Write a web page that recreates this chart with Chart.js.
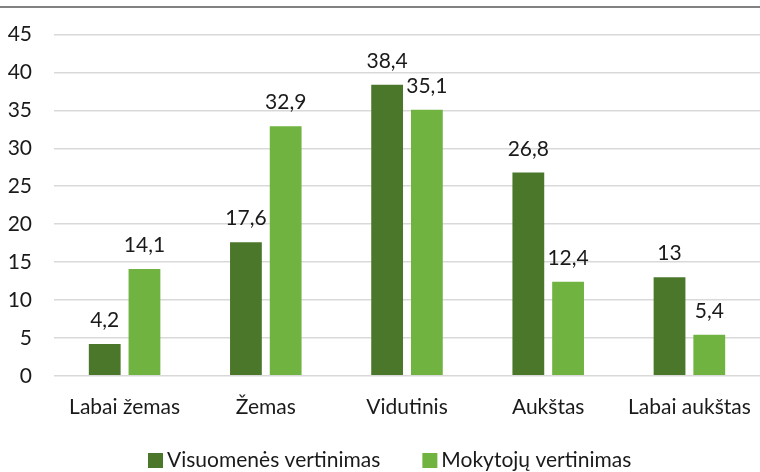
<!DOCTYPE html>
<html lang="lt">
<head>
<meta charset="UTF-8">
<title>Vertinimas</title>
<script src="https://cdn.jsdelivr.net/npm/chart.js"></script>
<style>
  body { margin: 0; background: #fff; }
  #wrap { width: 760px; height: 472px; }
</style>
</head>
<body>
<div id="wrap"><canvas id="chart" width="760" height="472"></canvas></div>
<script>
const categories = ['Labai žemas', 'Žemas', 'Vidutinis', 'Aukštas', 'Labai aukštas'];
const visuomenes = [4.2, 17.6, 38.4, 26.8, 13];
const mokytoju = [14.1, 32.9, 35.1, 12.4, 5.4];
const seriesNames = ['Visuomenės vertinimas', 'Mokytojų vertinimas'];

const FONT = 'Lato, "Open Sans", sans-serif';
const FS = 21;
const TEXT = '#1a1a1a';

// top border line, value labels above bars, legend under the axis
const extras = {
  id: 'extras',
  afterDraw(chart) {
    const ctx = chart.ctx;
    ctx.save();
    ctx.strokeStyle = '#595959';
    ctx.lineWidth = 1.5;
    ctx.beginPath();
    ctx.moveTo(0, 7);
    ctx.lineTo(chart.width, 7);
    ctx.stroke();

    ctx.fillStyle = TEXT;
    ctx.font = FS + 'px ' + FONT;
    ctx.textAlign = 'center';
    ctx.textBaseline = 'alphabetic';
    chart.data.datasets.forEach((ds, i) => {
      chart.getDatasetMeta(i).data.forEach((bar, j) => {
        const txt = String(ds.data[j]).replace('.', ',');
        ctx.fillText(txt, bar.x, bar.y - 17);
      });
    });

    // legend
    ctx.textAlign = 'left';
    let x = 148;
    const boxTop = 453;
    chart.data.datasets.forEach(ds => {
      ctx.fillStyle = ds.backgroundColor;
      ctx.fillRect(x, boxTop, 15, 15);
      ctx.fillStyle = TEXT;
      ctx.fillText(ds.label, x + 19, 467);
      x += 19 + ctx.measureText(ds.label).width + 42;
    });
    ctx.restore();
  }
};

new Chart(document.getElementById('chart'), {
  type: 'bar',
  data: {
    labels: categories,
    datasets: [
      { label: seriesNames[0], data: visuomenes, backgroundColor: '#4b772b' },
      { label: seriesNames[1], data: mokytoju, backgroundColor: '#70b340' }
    ]
  },
  options: {
    responsive: false,
    animation: false,
    layout: { padding: { top: 22, right: 0, left: 0, bottom: 33 } },
    datasets: { bar: { categoryPercentage: 0.563, barPercentage: 0.8 } },
    scales: {
      x: {
        grid: { display: false, drawTicks: false },
        border: { display: false },
        ticks: { color: TEXT, font: { family: FONT, size: FS }, padding: 19 },
        afterFit(scale) { scale.paddingLeft = 0; scale.paddingRight = 0; }
      },
      y: {
        min: 0, max: 45,
        ticks: { stepSize: 5, color: TEXT, font: { family: FONT, size: FS }, padding: 22 },
        grid: { color: '#d9d9d9', lineWidth: 1.5, drawTicks: false },
        border: { display: false },
        afterFit(scale) { scale.width = 54; }
      }
    },
    plugins: {
      legend: { display: false },
      tooltip: { enabled: false }
    }
  },
  plugins: [extras]
});
</script>
</body>
</html>
